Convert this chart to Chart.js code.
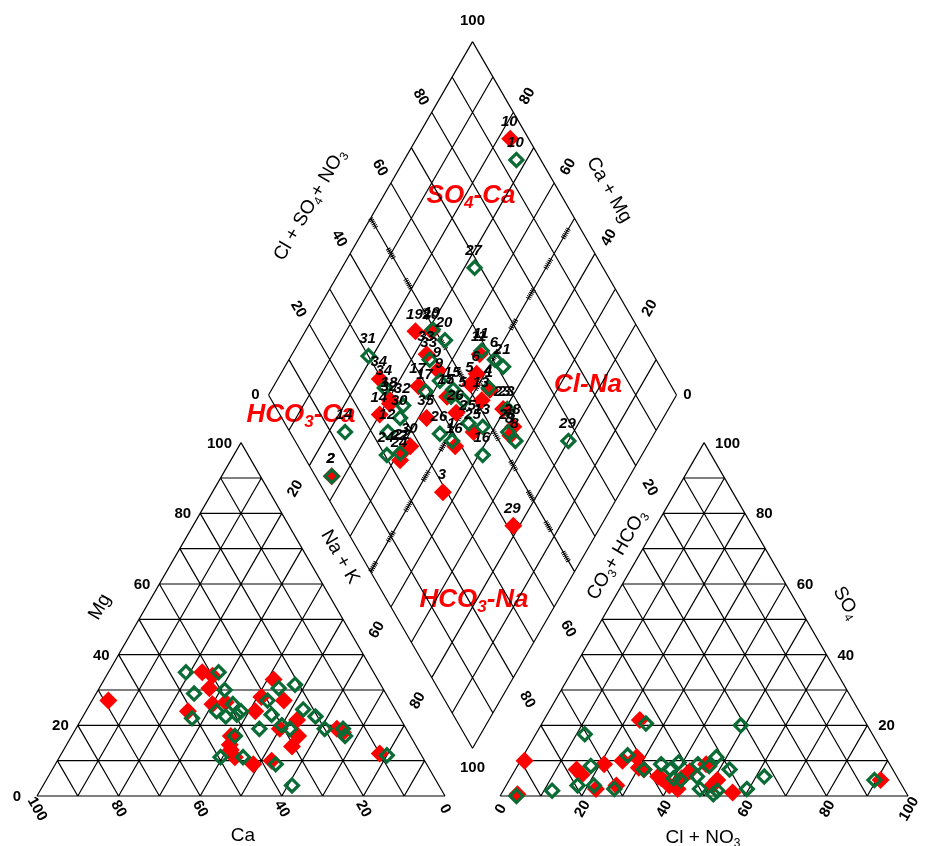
<!DOCTYPE html>
<html>
<head>
<meta charset="utf-8">
<title>Piper diagram</title>
<script src="https://cdn.jsdelivr.net/npm/chart.js@4.4.1/dist/chart.umd.min.js"></script>
<style>
  html, body { margin: 0; padding: 0; background: #fff; }
  #wrap { width: 926px; height: 846px; position: relative; }
</style>
</head>
<body>
<div id="wrap"><canvas id="piper"></canvas></div>
<script>
// cation triangle: [Ca %, Mg %]  (Na+K is the rest)
const redCations = [[69,27],[42,35],[40,34],[42.5,30.5],[51,24],[44,26],[25.5,33],[31,28],[26,27],[34.5,24],
  [25.5,21.5],[27.5,17],[30.5,14],[44,17],[46,13],[46,11],[42.5,9],[37.5,10],[31,19],[17,19],[16,18],[10,12],
  [45.5,14.5],[40.5,26.5]];
const greenCations = [[46,35],[38,35],[47,29],[39,30],[51,22],[44,24],[39,26],[39.5,23],[42.5,22.5],[38,24],
  [43,17],[49.5,11],[44,11],[36,19],[30,27],[31,23],[25.5,30.5],[21,31.5],[30,20],[28.5,19],[22.5,24.5],
  [20.5,22.5],[20,19],[15.5,19],[16,17],[37,9],[36,3],[8.5,11.5]];

// anion triangle: [Cl+NO3 %, SO4 %]  (CO3+HCO3 is the rest)
const redAnions = [[1,10],[4,0.5],[23.5,21.5],[15,7.5],[17,6],[21,9],[22.5,2],[27,3],[25,10],[28,11],[31.5,7.5],
  [37,5],[42.5,2],[43,7],[46,9],[50.5,3],[51,4.5],[56.5,1],[91,4.5],[42,5],[40,3],[30,8],[36,5.5]];
const greenAnions = [[4,0],[12,1.5],[12,17.5],[17.5,3],[18,8.5],[21.5,3],[27,2],[25.5,11.5],[31.5,7.5],[25.5,20.5],
  [35,9],[38,7.5],[40,5],[39,9.5],[42,4.5],[44,9],[45.5,5.5],[48,2],[47,8.5],[47.5,11],[52.5,1.5],[52.5,7.5],
  [49,20],[59.5,2],[62,5.5],[89.5,4.5],[52,0.5]];

// diamond: [Na+K %, Cl+SO4+NO3 %] with sample numbers
const redDiamond = [[23,95.5],[27,45],[33,44.5],[38,45],[35.5,38],[42,35.5],[25,29.5],[30,24.5],[30.5,29],[41,25],
  [41.5,23],[27,4],[56.5,29],[78.5,41.5],[48,54],[53.5,55],[53,38.5],[55.5,45],[64.5,55.5],[59.5,55.5],[48.5,43.5],
  [44,43.5],[48,51],[31,28.5],[42,27.5],[46,57.5],[31,49],[53,51.5],[65,53.5]];
const redIds = ['10','19','33','9','17','35','34','14','18','22','24','2','3','29','6','1','16','25','28','23','26',
  '15','5','32','30','11','20','13','8'];
const greenDiamond = [[27.5,94],[32.5,68.5],[31,49.5],[35.5,51],[19,30],[34.5,44.5],[27.5,29.5],[24,13.5],[27,4],
  [40,44],[38,39],[44.5,46],[45,44.5],[48.5,47],[46,58.5],[50.5,60.5],[53.5,61.5],[53,55],[53,45],[57,48],
  [47.5,36.5],[51.5,38.5],[61,44],[60.5,56.5],[64,53.5],[67,54],[35.5,29],[34.5,24],[40.5,24],[37.5,20.5],
  [34.5,31.5],[80,67]];
const greenIds = ['10','27','19','20','31','33','34','14','2','9','17','15','7','5','11','6','21','4','25','13',
  '26','1','16','23','28','8','30','12','22','24','32','29'];

const gridSteps = [0,10,20,30,40,50,60,70,80,90,100];
const tickValues = [0,20,40,60,80,100];

// geometry, triangle side = 1
const GAP = 0.135;
const H = Math.sqrt(3) / 2;
const FONT = '"Liberation Sans", Arial, sans-serif';
const RED = '#ff0000';
const GREEN = '#0b6b35';

function cationXY(ca, mg) {
  const na = 100 - ca - mg;
  return { x: (na + mg / 2) / 100, y: mg / 100 * H };
}
function anionXY(cl, so4) {
  return { x: 1 + GAP + (cl + so4 / 2) / 100, y: so4 / 100 * H };
}
function diamondXY(nak, clso4) {
  const lx = 0.5 + GAP / 2, ly = H * (1 + GAP);
  return { x: lx + (nak + clso4) / 200, y: ly + H * (clso4 - nak) / 100 };
}

function segments(pairs) {
  const out = [];
  pairs.forEach(function (p) { out.push(p[0], p[1], { x: null, y: null }); });
  return out;
}

const cationGrid = [], anionGrid = [], diamondGrid = [];
gridSteps.forEach(function (k) {
  cationGrid.push([cationXY(100 - k, k), cationXY(0, k)]);
  cationGrid.push([cationXY(k, 0), cationXY(k, 100 - k)]);
  cationGrid.push([cationXY(100 - k, 0), cationXY(0, 100 - k)]);
  anionGrid.push([anionXY(0, k), anionXY(100 - k, k)]);
  anionGrid.push([anionXY(k, 0), anionXY(k, 100 - k)]);
  anionGrid.push([anionXY(0, 100 - k), anionXY(100 - k, 0)]);
  diamondGrid.push([diamondXY(k, 0), diamondXY(k, 100)]);
  diamondGrid.push([diamondXY(0, k), diamondXY(100, k)]);
});
const hatchLines = [[diamondXY(0, 50), diamondXY(100, 50)], [diamondXY(50, 0), diamondXY(50, 100)]];

function lineSet(pairs) {
  return {
    data: segments(pairs), showLine: true, borderColor: '#000', borderWidth: 1.2,
    pointRadius: 0, pointHoverRadius: 0, order: 3, clip: false
  };
}
function redSet(points) {
  return {
    data: points, pointStyle: 'rectRot', pointRadius: 9, pointHoverRadius: 9,
    pointBackgroundColor: RED, pointBorderWidth: 0, pointBorderColor: RED, order: 1, clip: false
  };
}
function greenSet(points) {
  return {
    data: points, pointStyle: 'rectRot', pointRadius: 6.5, pointHoverRadius: 6.5,
    pointBackgroundColor: 'rgba(0,0,0,0)', pointBorderColor: GREEN, pointBorderWidth: 3.2, order: 0, clip: false
  };
}

const redDia = redSet(redDiamond.map(function (d) { return diamondXY(d[0], d[1]); }));
redDia.ids = redIds;
const greenDia = greenSet(greenDiamond.map(function (d) { return diamondXY(d[0], d[1]); }));
greenDia.ids = greenIds;

function drawRich(ctx, parts, x, y, o) {
  const size = o.size || 14;
  const pre = (o.style || 'normal') + ' ' + (o.weight || 'normal') + ' ';
  const fontFor = function (sub) { return pre + (sub ? Math.round(size * 0.65) : size) + 'px ' + FONT; };
  const widths = parts.map(function (p) { ctx.font = fontFor(p[1]); return ctx.measureText(p[0]).width; });
  const total = widths.reduce(function (a, b) { return a + b; }, 0);
  ctx.save();
  ctx.translate(x, y);
  ctx.rotate((o.rot || 0) * Math.PI / 180);
  ctx.fillStyle = o.color || '#000';
  ctx.textBaseline = 'middle';
  ctx.textAlign = 'left';
  let cx = o.align === 'left' ? 0 : (o.align === 'right' ? -total : -total / 2);
  parts.forEach(function (p, i) {
    ctx.font = fontFor(p[1]);
    ctx.fillText(p[0], cx, p[1] ? size * 0.3 : 0);
    cx += widths[i];
  });
  ctx.restore();
}

const piperText = {
  id: 'piperText',
  beforeDatasetsDraw: function (chart) {
    const ctx = chart.ctx;
    const cls = { size: 26, weight: 'bold', style: 'italic', color: RED };
    drawRich(ctx, [['SO'], ['4', 1], ['-Ca']], 471, 196, cls);
    drawRich(ctx, [['Cl-Na']], 588, 385, cls);
    drawRich(ctx, [['HCO'], ['3', 1], ['-Ca']], 301, 415, cls);
    drawRich(ctx, [['HCO'], ['3', 1], ['-Na']], 474, 600, cls);
  },
  afterDatasetsDraw: function (chart) {
    const ctx = chart.ctx;
    const xs = chart.scales.x, ys = chart.scales.y;
    const P = function (p) { return [xs.getPixelForValue(p.x), ys.getPixelForValue(p.y)]; };
    const tk = { size: 15, weight: 'bold' };
    const with_ = function (extra) { return Object.assign({}, tk, extra); };
    let q;

    // left triangle ticks
    tickValues.forEach(function (v) {
      q = P(cationXY(100 - v, v));
      drawRich(ctx, [[String(v)]], q[0] - (v === 0 ? 16 : 9), q[1] + 1, with_({ align: 'right' }));
      q = P(cationXY(v, 0));
      drawRich(ctx, [[String(v)]], q[0], q[1] + 13, with_({ rot: 60 }));
    });
    // right triangle ticks
    tickValues.forEach(function (v) {
      q = P(anionXY(v, 0));
      drawRich(ctx, [[String(v)]], q[0] + 1, q[1] + 13, with_({ rot: -60 }));
      if (v > 0) {
        q = P(anionXY(100 - v, v));
        drawRich(ctx, [[String(v)]], q[0] + 11, q[1] + 1, with_({ align: 'left' }));
      }
    });
    // diamond ticks
    [20, 40, 60, 80].forEach(function (v) {
      q = P(diamondXY(0, v));
      drawRich(ctx, [[String(v)]], q[0] - 11, q[1] - 15, with_({ rot: 60 }));
      q = P(diamondXY(100 - v, 100));
      drawRich(ctx, [[String(v)]], q[0] + 14, q[1] - 16, with_({ rot: -60 }));
      if (v !== 40) {
        q = P(diamondXY(v, 0));
        drawRich(ctx, [[String(v)]], q[0] - 14, q[1] + 23, with_({ rot: -60 }));
        q = P(diamondXY(100, 100 - v));
        drawRich(ctx, [[String(v)]], q[0] + 14, q[1] + 22, with_({ rot: 60 }));
      }
    });
    q = P(diamondXY(0, 100)); drawRich(ctx, [['100']], q[0], q[1] - 21, tk);
    q = P(diamondXY(0, 0)); drawRich(ctx, [['0']], q[0] - 13, q[1], tk);
    q = P(diamondXY(100, 100)); drawRich(ctx, [['0']], q[0] + 11, q[1], tk);
    q = P(diamondXY(100, 0)); drawRich(ctx, [['100']], q[0], q[1] + 20, tk);

    // axis titles
    const tt = { size: 19 };
    drawRich(ctx, [['Cl + SO'], ['4', 1], ['+ NO'], ['3', 1]], 310, 205, Object.assign({ rot: -60 }, tt));
    drawRich(ctx, [['Ca + Mg']], 609, 190, Object.assign({ rot: 60 }, tt));
    drawRich(ctx, [['Na + K']], 340, 557, Object.assign({ rot: 60 }, tt));
    drawRich(ctx, [['CO'], ['3', 1], ['+ HCO'], ['3', 1]], 617, 555, Object.assign({ rot: -60 }, tt));
    drawRich(ctx, [['Mg']], 100, 607, Object.assign({ rot: -60 }, tt));
    drawRich(ctx, [['Ca']], 243, 836, tt);
    drawRich(ctx, [['Cl + NO'], ['3', 1]], 703, 838, tt);
    drawRich(ctx, [['SO'], ['4', 1]], 846, 603, Object.assign({ rot: 60 }, tt));

    // sample numbers in the diamond
    const lab = { size: 15, weight: 'bold', style: 'italic' };
    chart.data.datasets.forEach(function (ds, i) {
      if (!ds.ids) return;
      chart.getDatasetMeta(i).data.forEach(function (pt, j) {
        drawRich(ctx, [[ds.ids[j]]], pt.x - 1, pt.y - 17, lab);
      });
    });
  }
};

new Chart(document.getElementById('piper'), {
  type: 'scatter',
  data: {
    datasets: [
      lineSet(cationGrid),
      lineSet(anionGrid),
      lineSet(diamondGrid),
      {
        data: segments(hatchLines), showLine: true, borderColor: '#000', borderWidth: 5,
        borderDash: [1, 1, 1, 1, 1, 1, 1, 1, 1, 1, 1, 24], borderCapStyle: 'butt',
        pointRadius: 0, pointHoverRadius: 0, order: 2, clip: false
      },
      redSet(redCations.map(function (d) { return cationXY(d[0], d[1]); })),
      redSet(redAnions.map(function (d) { return anionXY(d[0], d[1]); })),
      redDia,
      greenSet(greenCations.map(function (d) { return cationXY(d[0], d[1]); })),
      greenSet(greenAnions.map(function (d) { return anionXY(d[0], d[1]); })),
      greenDia
    ]
  },
  options: {
    responsive: true,
    maintainAspectRatio: false,
    animation: false,
    events: [],
    layout: { padding: 0, autoPadding: false },
    plugins: {
      legend: { display: false },
      tooltip: { enabled: false }
    },
    scales: {
      x: { type: 'linear', display: false, min: -37 / 408, max: 889 / 408 },
      y: { type: 'linear', display: false, min: -50 / 408, max: 796 / 408 }
    }
  },
  plugins: [piperText]
});
</script>
</body>
</html>
